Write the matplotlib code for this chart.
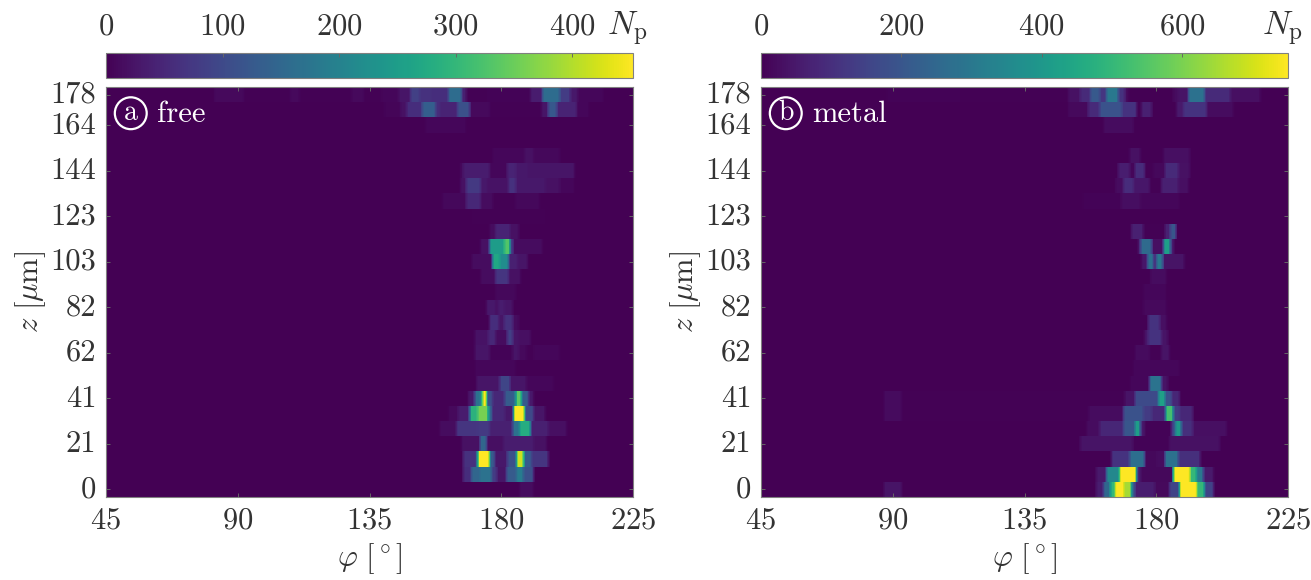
import numpy as np
import matplotlib
matplotlib.use("Agg")
import matplotlib.pyplot as plt
from matplotlib.transforms import ScaledTranslation

plt.rcParams['font.family'] = ['cmr10', 'DejaVu Serif']
plt.rcParams['mathtext.fontset'] = 'cm'
plt.rcParams['axes.formatter.use_mathtext'] = True
plt.rcParams['axes.unicode_minus'] = False

# particle counts per z row, given as phi bin edges and the count in each bin
z_values = np.linspace(0, 178, 27)
z_ticks = [0, 3, 6, 9, 12, 15, 18, 21, 24, 26]
z_labels = ['0', '21', '41', '62', '82', '103', '123', '144', '164', '178']
phi_ticks = [45, 90, 135, 180, 225]

free_rows = {
    26: ([82, 92, 108, 111, 129, 133, 139, 145, 149, 152, 155.7, 162, 166.5, 168, 175, 190, 194, 200, 203.5, 206, 215],
         [12, 2, 12, 2, 12, 3, 8, 25, 85, 65, 60, 160, 40, 3, 4, 35, 160, 80, 30, 8]),
    25: ([140, 145.5, 147.7, 153, 157.4, 159, 165, 169.3, 176, 193.8, 196, 199, 205.7, 210],
         [6, 20, 60, 135, 60, 45, 110, 12, 2, 25, 125, 45, 8]),
    24: ([154, 168], [8]),
    22: ([177, 188, 191, 200], [8, 20, 10]),
    21: ([166, 167, 176, 182, 185, 189, 205], [12, 35, 8, 45, 30, 25]),
    20: ([166, 168, 173, 175, 182.5, 185, 195, 200, 205], [20, 75, 30, 22, 65, 30, 20, 8]),
    19: ([160, 168, 173, 177, 185, 193], [10, 50, 15, 3, 10]),
    18: ([170, 195], [3]),
    17: ([176, 178, 183, 186], [15, 45, 20]),
    16: ([173, 176, 181, 183, 184, 194], [20, 250, 330, 100, 15]),
    15: ([170, 177, 179.5, 182.5, 185.5, 189], [15, 270, 220, 40, 25]),
    14: ([173, 178, 182.5, 186.5], [15, 70, 20]),
    13: ([178, 185], [10]),
    12: ([175, 178, 179, 181, 184], [30, 18, 35, 25]),
    11: ([176, 179, 181, 184, 186], [60, 25, 65, 15]),
    10: ([171, 175.5, 178, 182, 184, 186, 190], [22, 50, 15, 85, 25, 18]),
    9: ([171, 176, 184, 186, 188.5, 191, 200], [25, 5, 25, 12, 2, 8]),
    8: ([171, 185], [8]),
    7: ([171.5, 179.5, 183, 188.5, 198], [25, 95, 25, 8]),
    6: ([168.7, 171, 173, 173.8, 175, 177, 181.2, 184, 184.9, 187.1, 189.2, 190.9],
        [30, 170, 250, 500, 110, 50, 130, 140, 340, 130, 30]),
    5: ([161.9, 165.3, 169.3, 172.1, 175.5, 176.7, 181.2, 184.3, 188, 190.9, 194.9],
        [12, 35, 290, 360, 170, 50, 30, 480, 100, 25]),
    4: ([159, 164.7, 172.1, 176.1, 184.1, 186.3, 190.1, 196, 202.3], [15, 70, 75, 40, 170, 280, 40, 18]),
    3: ([166.4, 172.7, 175, 180.7, 190.9, 195.4], [20, 150, 18, 35, 20]),
    2: ([167, 171.5, 172.1, 176.1, 177.8, 182, 185.2, 187.7, 190.3, 196],
        [65, 110, 480, 130, 30, 110, 420, 130, 70]),
    1: ([167, 169.8, 172.7, 176.7, 178.4, 181.8, 185.2, 187.5, 190.9], [60, 150, 170, 80, 25, 130, 190, 110]),
    0: ([186.3, 190.9], [15]),
}

metal_rows = {
    26: ([88, 113, 150, 154, 157.4, 160.8, 163, 167, 169.3, 170.4, 185.8, 187.5, 190.9, 196.6, 205.2, 215.4],
         [8, 4, 35, 90, 210, 120, 300, 110, 25, 2, 25, 40, 280, 90, 30]),
    25: ([150, 156.8, 160.8, 168.2, 173.3, 175, 178.4, 186.9, 189.2, 197.2, 206.3],
         [20, 90, 190, 110, 3, 65, 2, 50, 110, 25]),
    24: ([161.9, 172.2], [25]),
    22: ([171, 174.4, 182.4, 191.5], [35, 2, 30]),
    21: ([167, 171, 172.7, 176.1, 179, 183, 187.5, 191.5], [60, 12, 95, 5, 15, 90, 35]),
    20: ([165.9, 168.7, 172.2, 177.8, 181.8, 187.5, 190.9], [25, 95, 45, 5, 65, 30]),
    19: ([155, 168, 174.4, 188], [8, 28, 12]),
    17: ([171.6, 175.6, 183, 184.7, 186.7], [65, 4, 70, 200]),
    16: ([173.9, 174.7, 178.4, 182.4, 184.7, 185.8], [80, 260, 30, 420, 90]),
    15: ([175, 177, 179, 180, 182.3, 189.6], [45, 280, 70, 300, 40]),
    14: ([178, 183.5], [25]),
    13: ([175.5, 183.5], [12]),
    12: ([175.5, 183.5], [18]),
    11: ([177.3, 181.2, 183.5], [110, 30]),
    10: ([176, 177.3, 181.8, 184], [45, 110, 40]),
    9: ([172.7, 177.8, 181.8, 184.6], [22, 5, 40]),
    8: ([172, 188], [12]),
    7: ([171, 177.8, 181.8, 184], [12, 285, 40]),
    6: ([87, 93, 169.3, 172.7, 180.7, 183, 185.2, 188], [22, 3, 40, 170, 430, 190, 80]),
    5: ([87, 93, 157, 168.7, 175.5, 178.4, 183.3, 185.8, 188, 192.6], [22, 3, 25, 190, 130, 85, 530, 130, 85]),
    4: ([156.2, 160.8, 168.7, 172.7, 174.4, 176.1, 185.2, 186.4, 188.6, 192.6, 204],
        [25, 80, 200, 420, 50, 8, 170, 410, 100, 30]),
    3: ([154, 172.1, 184.6, 201.7], [40, 8, 35]),
    2: ([164.8, 171, 176.1, 180, 183, 187.5, 194.9], [110, 270, 15, 25, 280, 100]),
    1: ([159.6, 163, 167.6, 173.3, 174.4, 185.8, 191.5, 193.8, 196.1, 199.5],
        [50, 350, 780, 80, 15, 800, 500, 300, 50]),
    0: ([87, 93, 159.6, 161.9, 164.2, 165.9, 168.7, 171.6, 172.7, 179.5, 184.6, 188, 193.8, 196.6, 199.5],
        [40, 2, 60, 250, 500, 800, 650, 220, 60, 20, 150, 800, 500, 150]),
}


def build_grid(rows):
    # 0.25 deg cells so the uneven bins land on one image, softened a bit along phi
    grid = np.zeros((len(z_values), 720))
    centers = 45 + 0.25 * (np.arange(720) + 0.5)
    for r in rows:
        edges, counts = rows[r]
        for i in range(len(counts)):
            grid[r, (centers >= edges[i]) & (centers < edges[i + 1])] = counts[i]
        grid[r] = np.convolve(grid[r], np.ones(5) / 5, mode='same')
    return grid


def panel(left, rows, vmax, cticks, letter, name):
    dz = z_values[1] - z_values[0]
    ax = fig.add_axes([left / 1311, 1 - 497 / 580, 527 / 1311, 410 / 580])
    im = ax.imshow(build_grid(rows), origin='lower', aspect='auto', cmap='viridis', vmin=0, vmax=vmax,
                   extent=[45, 225, -dz / 2, 178 + dz / 2], interpolation='nearest')
    ax.set_xticks(phi_ticks)
    ax.set_yticks(z_values[z_ticks])
    ax.set_yticklabels(z_labels)
    ax.tick_params(direction='in', length=3, width=0.7, color='0.4', top=True, right=True,
                   labelsize=22, labelcolor='0.2')
    ax.tick_params(axis='x', pad=7)
    ax.tick_params(axis='y', pad=7)
    shift = ScaledTranslation(0, 2.5 / 100, fig.dpi_scale_trans)
    for lab in ax.get_yticklabels():
        lab.set_transform(lab.get_transform() + shift)
    for s in ax.spines.values():
        s.set_color('0.5')
        s.set_linewidth(0.8)
    ax.set_xlabel(r'$\varphi\ [^\circ]$', fontsize=22, color='0.2', labelpad=5)
    ax.set_ylabel(r'$z\ [\mu\mathrm{m}]$', fontsize=22, color='0.2', labelpad=2)

    ax.text(0.047, 0.936, letter, transform=ax.transAxes, color='white', fontsize=20, ha='center', va='center',
            bbox=dict(boxstyle='circle,pad=0.1', fc='none', ec='white', lw=1.6))
    ax.text(0.097, 0.934, name, transform=ax.transAxes, color='white', fontsize=22, ha='left', va='center')

    cax = fig.add_axes([left / 1311, 1 - 78 / 580, 527 / 1311, 25 / 580])
    cb = fig.colorbar(im, cax=cax, orientation='horizontal', ticks=cticks)
    cax.xaxis.set_ticks_position('top')
    cax.tick_params(direction='in', length=3, width=0.7, color='0.4', labelsize=22, labelcolor='0.2', pad=9)
    cb.outline.set_edgecolor('0.5')
    cb.outline.set_linewidth(0.8)
    cax.text(0.951, 1.2, r'$N_\mathrm{p}$', transform=cax.transAxes, fontsize=24, color='0.2',
             ha='left', va='bottom')


fig = plt.figure(figsize=(13.11, 5.8), dpi=100)
panel(106, free_rows, 452, [0, 100, 200, 300, 400], 'a', 'free')
panel(761, metal_rows, 751, [0, 200, 400, 600], 'b', 'metal')
fig.savefig('out.png', dpi=100)
